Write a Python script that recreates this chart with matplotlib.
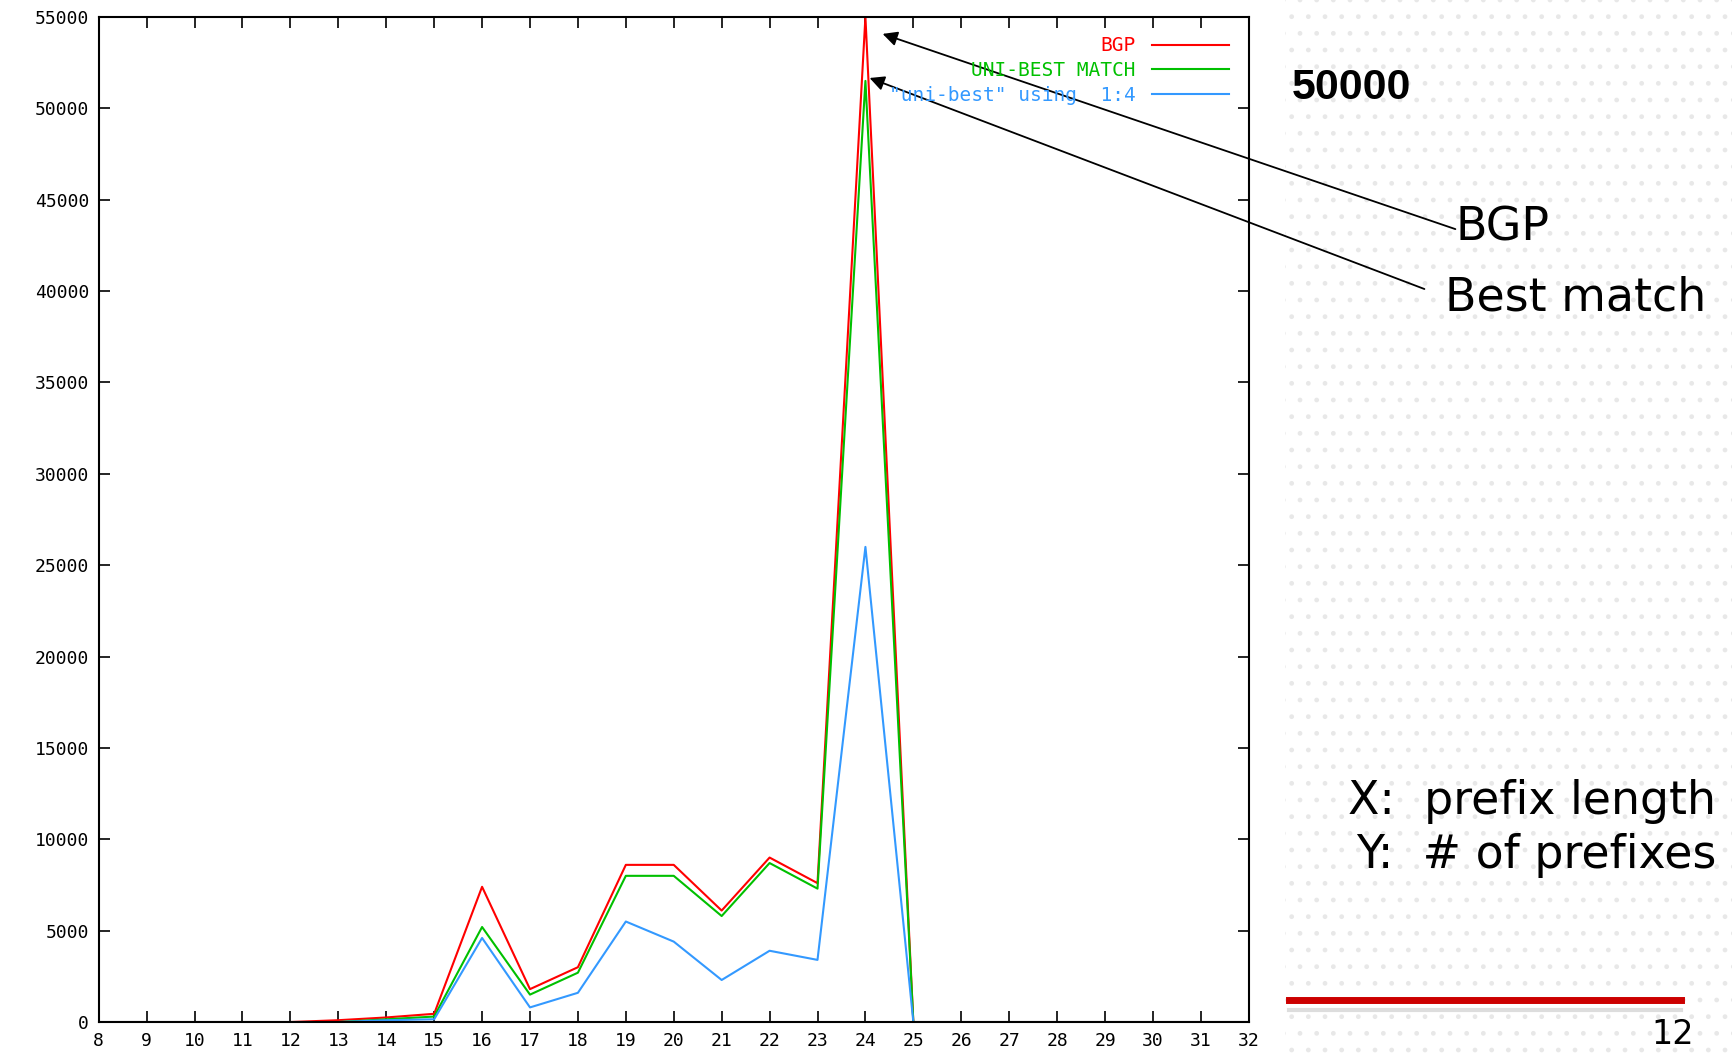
import numpy as np
import matplotlib.pyplot as plt
from matplotlib.patches import Rectangle

# prefix length vs number of prefixes
prefix_len = np.arange(8, 33)
bgp = [0, 0, 0, 0, 0, 100, 250, 450, 7400, 1800, 3000, 8600, 8600, 6100, 9000, 7600,
       55000, 0, 0, 0, 0, 0, 0, 0, 0]
uni_best = [0, 0, 0, 0, 0, 0, 150, 300, 5200, 1500, 2700, 8000, 8000, 5800, 8700, 7300,
            51500, 0, 0, 0, 0, 0, 0, 0, 0]
uni_best_14 = [0, 0, 0, 0, 0, 0, 100, 150, 4600, 800, 1600, 5500, 4400, 2300, 3900, 3400,
               26000, 0, 0, 0, 0, 0, 0, 0, 0]

fig = plt.figure(figsize=(17.32, 10.58), dpi=100)

# light dotted background on the slide part
bg = Rectangle((0.742, 0), 0.258, 1, transform=fig.transFigure, facecolor='white',
               edgecolor='#e8e8e8', hatch='.', linewidth=0, zorder=-10)
fig.patches.append(bg)

ax = fig.add_axes([0.057, 0.034, 0.664, 0.950])
ax.plot(prefix_len, bgp, color='#ff0000', lw=1.5, label='BGP')
ax.plot(prefix_len, uni_best, color='#00c000', lw=1.5, label='UNI-BEST MATCH')
ax.plot(prefix_len, uni_best_14, color='#3399ff', lw=1.5, label='"uni-best" using  1:4')

ax.set_xlim(8, 32)
ax.set_ylim(0, 55000)
ax.set_xticks(prefix_len)
ax.set_yticks(np.arange(0, 55001, 5000))
ax.tick_params(direction='in', top=True, right=True, length=8, width=1.2,
               labelsize=13, pad=7)
for lab in ax.get_xticklabels() + ax.get_yticklabels():
    lab.set_family('DejaVu Sans Mono')
for s in ax.spines.values():
    s.set_linewidth(1.5)

leg = ax.legend(loc='upper right', frameon=False, markerfirst=False,
                prop={'family': 'DejaVu Sans Mono', 'size': 14},
                handlelength=4, borderaxespad=0.6, labelspacing=0.3)
for txt, line in zip(leg.get_texts(), leg.get_lines()):
    txt.set_color(line.get_color())

# annotations
fig.text(0.746, 0.917, '50000', fontsize=31, fontweight='bold',
         family='Liberation Sans', ha='left', va='center')
ax.annotate('', xy=(880, 1058 - 33), xycoords='figure pixels',
            xytext=(1458, 1058 - 230), textcoords='figure pixels',
            arrowprops=dict(arrowstyle='-|>', color='black', lw=1.3, mutation_scale=22))
ax.annotate('', xy=(867, 1058 - 77), xycoords='figure pixels',
            xytext=(1427, 1058 - 290), textcoords='figure pixels',
            arrowprops=dict(arrowstyle='-|>', color='black', lw=1.3, mutation_scale=22))
fig.text(1456 / 1732, 1 - 228 / 1058, 'BGP', fontsize=33, ha='left', va='center')
fig.text(1445 / 1732, 1 - 298 / 1058, 'Best match', fontsize=33, ha='left', va='center')
fig.text(1716 / 1732, 1 - 801 / 1058, 'X:  prefix length', fontsize=33, ha='right', va='center')
fig.text(1716 / 1732, 1 - 856 / 1058, 'Y:  # of prefixes', fontsize=33, ha='right', va='center')

fig.add_artist(plt.Line2D([1289 / 1732, 1681 / 1732], [1 - 1000 / 1058] * 2,
                          color='#cc0000', lw=5, transform=fig.transFigure))
fig.add_artist(plt.Line2D([1289 / 1732, 1681 / 1732], [1 - 1010 / 1058] * 2,
                          color='#dddddd', lw=3, transform=fig.transFigure))
fig.text(1673 / 1732, 1 - 1035 / 1058, '12', fontsize=24, ha='center', va='center')

plt.savefig('out.png', dpi=100)
